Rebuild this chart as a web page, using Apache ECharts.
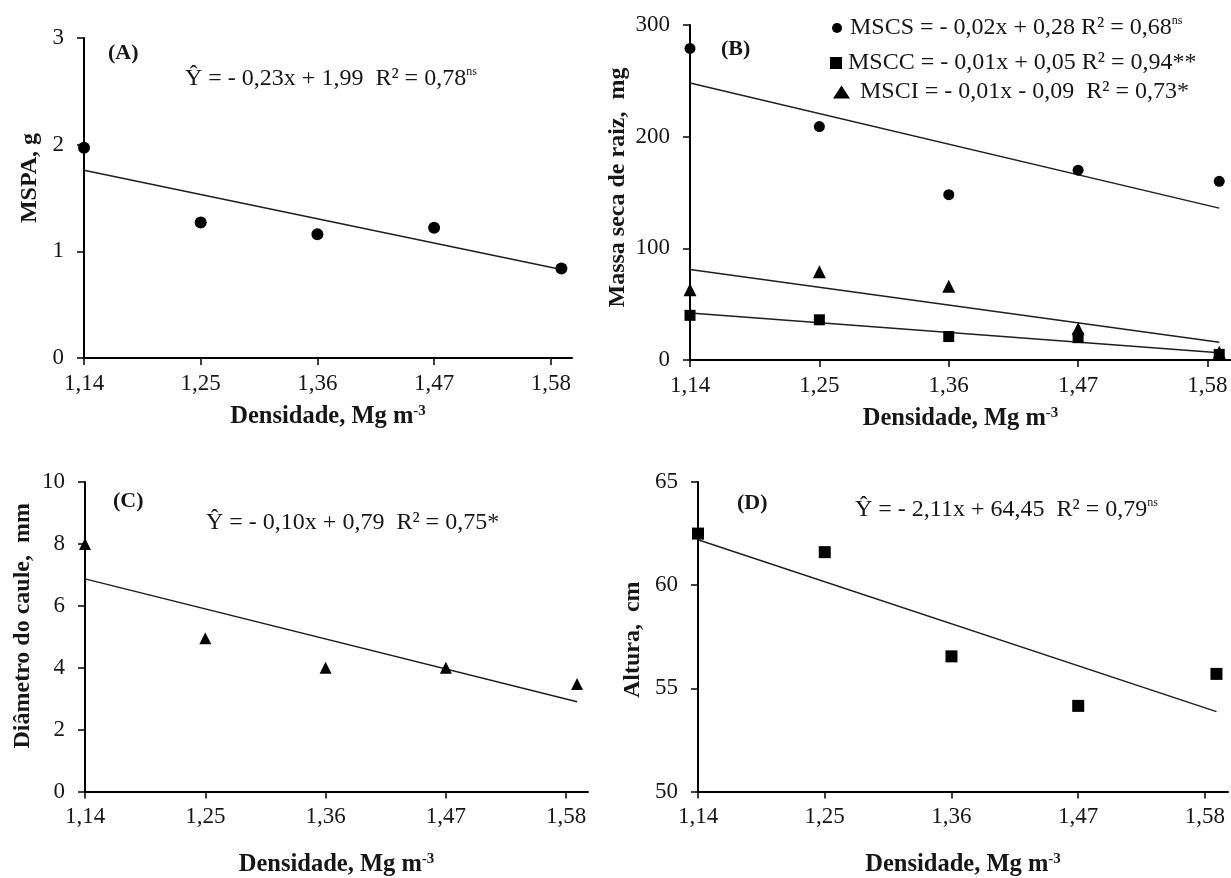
<!DOCTYPE html>
<html>
<head>
<meta charset="utf-8">
<script src="https://cdn.jsdelivr.net/npm/echarts@6/dist/echarts.min.js"></script>
<style>
html,body{margin:0;padding:0;background:#fff;}
#c{width:1231px;height:878px;}
</style>
</head>
<body>
<div id="c"></div>
<script>
// ---- data ----
const densidade = [1.14, 1.25, 1.36, 1.47, 1.59];
const xTicks = [1.14, 1.25, 1.36, 1.47, 1.58];
const trendX = [1.14, 1.59];

const mspa = [1.97, 1.27, 1.16, 1.22, 0.84];
const mspaTrend = [1.76, 0.83];

const mscs = [279, 209, 148, 170, 160];
const mscsTrend = [248, 136];
const mscc = [40, 36, 21, 20, 5];
const msccTrend = [42, 6.5];
const msci = [63, 79, 66, 28, 7];
const msciTrend = [81, 16];

const diametro = [8.0, 4.95, 4.0, 4.0, 3.47];
const diametroTrend = [6.87, 2.9];

const altura = [62.5, 61.6, 56.55, 54.15, 55.7];
const alturaTrend = [62.2, 53.87];

const yTicksA = [0, 3, 1];   // min, max, interval
const yTicksB = [0, 300, 100];
const yTicksC = [0, 10, 2];
const yTicksD = [50, 65, 5];

const panelLabels = ['(A)', '(B)', '(C)', '(D)'];
const yTitles = ['MSPA, g', 'Massa seca de raiz,  mg', 'Diâmetro do caule,  mm', 'Altura,  cm'];
const xTitle = ['Densidade, Mg m', '-3'];
const eqA = ['Ŷ = - 0,23x + 1,99  R² = 0,78', 'ns'];
const eqC = ['Ŷ = - 0,10x + 0,79  R² = 0,75*', ''];
const eqD = ['Ŷ = - 2,11x + 64,45  R² = 0,79', 'ns'];
const eqB = {
  MSCS: ['MSCS = - 0,02x + 0,28 R² = 0,68', 'ns'],
  MSCC: ['MSCC = - 0,01x + 0,05 R² = 0,94**', ''],
  MSCI: ['MSCI = - 0,01x - 0,09  R² = 0,73*', '']
};

// ---- styling ----
const FONT = "'Liberation Serif', 'Times New Roman', serif";
const INK = '#161616';

const grids = [
  {left: 84, top: 38, width: 488, height: 320},
  {left: 690, top: 25, width: 544, height: 335},
  {left: 85, top: 482, width: 503, height: 311},
  {left: 698, top: 482, width: 530, height: 311}
];

const pairs = (xs, ys) => xs.map((x, i) => [x, ys[i]]);

function xAxis(gi, gap, labelMargin) {
  return {
    type: 'value', gridIndex: gi, min: 1.14, max: 1.60,
    name: '{a|' + xTitle[0] + '}{b|' + xTitle[1] + '}',
    nameLocation: 'middle', nameGap: gap,
    nameTextStyle: {
      fontFamily: FONT, fontSize: 24, fontWeight: 'bold', color: INK,
      rich: {
        a: {fontFamily: FONT, fontSize: 24.5, fontWeight: 'bold', color: INK, lineHeight: 26},
        b: {fontFamily: FONT, fontSize: 15, fontWeight: 'bold', color: INK, verticalAlign: 'top', lineHeight: 14}
      }
    },
    axisLine: {show: true, onZero: false, lineStyle: {color: '#000', width: 2}},
    axisTick: {show: true, inside: false, length: 7, customValues: xTicks, lineStyle: {color: '#000', width: 1.5}},
    axisLabel: {
      customValues: xTicks, margin: labelMargin,
      fontFamily: FONT, fontSize: 23, color: INK,
      formatter: v => v.toFixed(2).replace('.', ',')
    },
    splitLine: {show: false}
  };
}

function yAxis(gi, t, title, gap, shift) {
  const pad = shift >= 0 ? [0, 0, 0, shift * 2] : [0, -shift * 2, 0, 0];
  return {
    type: 'value', gridIndex: gi, min: t[0], max: t[1], interval: t[2],
    name: title, nameLocation: 'middle', nameGap: gap, nameRotate: 90,
    nameTextStyle: {fontFamily: FONT, fontSize: 24, fontWeight: 'bold', color: INK, padding: pad},
    axisLine: {show: true, onZero: false, lineStyle: {color: '#000', width: 2}},
    axisTick: {show: true, inside: false, length: 7, lineStyle: {color: '#000', width: 1.5}},
    axisLabel: {margin: 20, fontFamily: FONT, fontSize: 23, color: INK},
    splitLine: {show: false}
  };
}

const eqRich = {
  t: {fontFamily: FONT, fontSize: 24, fontWeight: 'normal', color: INK, lineHeight: 26},
  s: {fontFamily: FONT, fontSize: 12, fontWeight: 'normal', color: INK, verticalAlign: 'top', lineHeight: 12}
};
const eqText = e => '{t|' + e[0] + '}' + (e[1] ? '{s|' + e[1] + '}' : '');

function label(text, left, top) {
  return {text: text, left: left, top: top, padding: 0,
    textStyle: {fontFamily: FONT, fontSize: 22, fontWeight: 'bold', color: INK}};
}
function eqTitle(e, left, top) {
  return {text: eqText(e), left: left, top: top, padding: 0,
    textStyle: {fontFamily: FONT, fontSize: 24, fontWeight: 'normal', color: INK, rich: eqRich}};
}

function trend(name, xi, ys) {
  return {name: name, type: 'line', xAxisIndex: xi, yAxisIndex: xi,
    data: pairs(trendX, ys), showSymbol: false, symbol: 'none', silent: true, z: 2,
    lineStyle: {color: '#1e1e1e', width: 1.5}};
}
function points(name, xi, ys, symbol, size) {
  return {name: name, type: 'scatter', xAxisIndex: xi, yAxisIndex: xi,
    data: pairs(densidade, ys), symbol: symbol, symbolSize: size, z: 3,
    itemStyle: {color: '#000', opacity: 1}};
}

function legendRow(name, left, top, w, h, gapPad) {
  return {
    data: [name], left: left, top: top, orient: 'vertical', padding: 0,
    itemWidth: w, itemHeight: h, selectedMode: false,
    formatter: n => eqText(eqB[n]),
    textStyle: {fontFamily: FONT, fontSize: 24, fontWeight: 'normal', color: INK, padding: [0, 0, 0, gapPad],
      rich: eqRich}
  };
}

const option = {
  animation: false,
  backgroundColor: '#fff',
  grid: grids,
  xAxis: [xAxis(0, 46, 14), xAxis(1, 46, 14), xAxis(2, 60, 14), xAxis(3, 60, 14)],
  yAxis: [
    yAxis(0, yTicksA, yTitles[0], 42, 20),
    yAxis(1, yTicksB, yTitles[1], 60, 5),
    yAxis(2, yTicksC, yTitles[2], 50, 11),
    yAxis(3, yTicksD, yTitles[3], 53, -3)
  ],
  title: [
    label(panelLabels[0], 108, 42),
    label(panelLabels[1], 721, 38),
    label(panelLabels[2], 113, 490),
    label(panelLabels[3], 737, 492),
    eqTitle(eqA, 185, 66),
    eqTitle(eqC, 206, 510),
    eqTitle(eqD, 855, 497)
  ],
  legend: [
    legendRow('MSCS', 832, 15, 10, 10, 3),
    legendRow('MSCC', 830, 51, 12, 12, 1),
    legendRow('MSCI', 833, 80, 17, 13, 5)
  ],
  series: [
    trend('MSPA tendência', 0, mspaTrend),
    points('MSPA', 0, mspa, 'circle', 12),
    trend('MSCS tendência', 1, mscsTrend),
    trend('MSCC tendência', 1, msccTrend),
    trend('MSCI tendência', 1, msciTrend),
    points('MSCS', 1, mscs, 'circle', 11),
    points('MSCC', 1, mscc, 'rect', 11),
    points('MSCI', 1, msci, 'triangle', 13),
    trend('Diâmetro tendência', 2, diametroTrend),
    points('Diâmetro', 2, diametro, 'triangle', 12),
    trend('Altura tendência', 3, alturaTrend),
    points('Altura', 3, altura, 'rect', 12)
  ]
};

const chart = echarts.init(document.getElementById('c'));
chart.setOption(option);
</script>
</body>
</html>
